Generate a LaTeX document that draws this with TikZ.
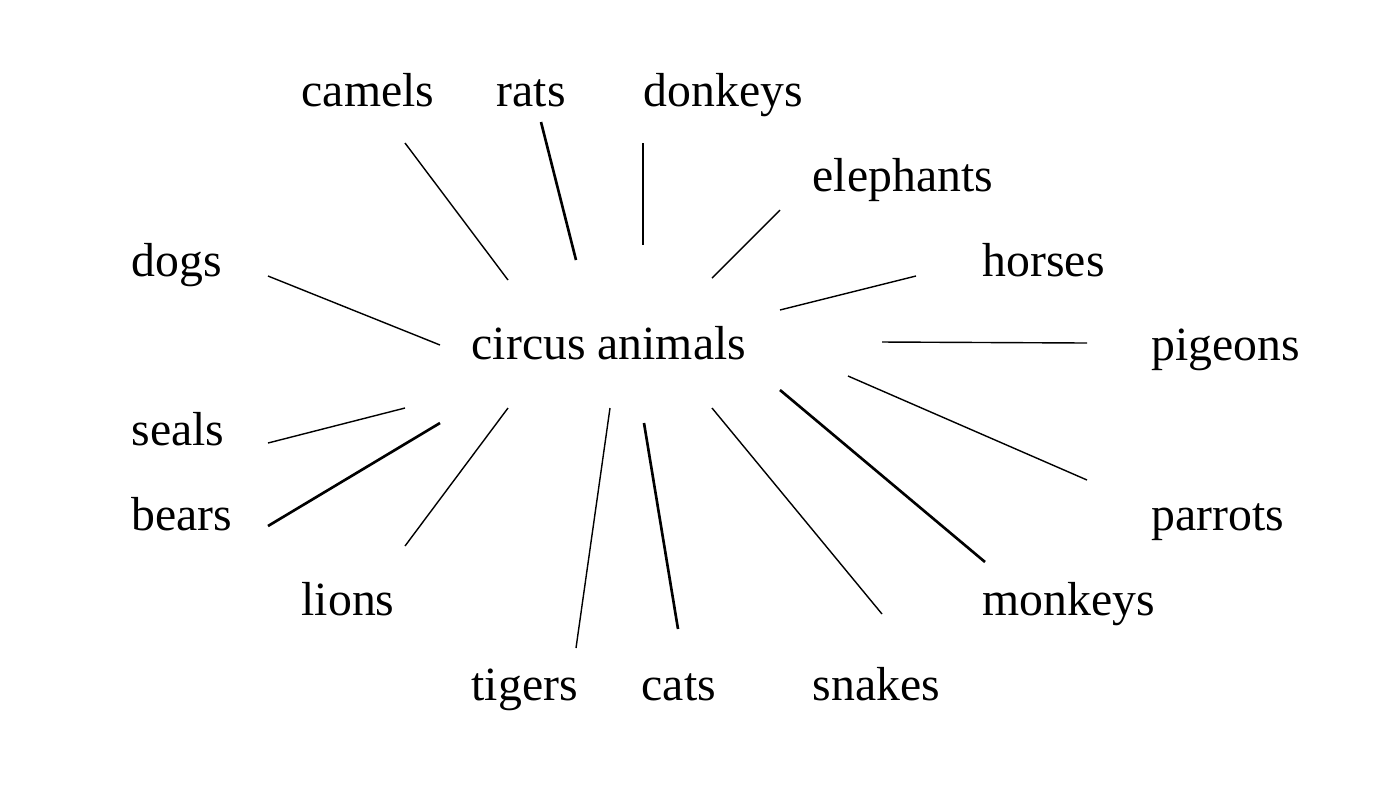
\documentclass[tikz,border=0pt]{standalone}
\usepackage{fontspec}
\setmainfont{Liberation Serif}
\newfontfamily\animalfont{Liberation Serif}
\usepackage{tikz}
\usetikzlibrary{positioning}

\tikzset{
    animal/.style={anchor=base west, inner sep=0pt, font=\animalfont\fontsize{13.57}{16}\selectfont},
    spoke/.style={black, line width=0.4pt},
    boldspoke/.style={black, line width=0.75pt}
}

\begin{document}
\begin{tikzpicture}[x=0.01cm, y=-0.01cm]
    % Marco de la figura
    \useasboundingbox (0,0) rectangle (1400,805);

    % Centro del diagrama
    \node[animal] (center) at (471,359) {circus animals};

    % Nombres de los animales
    \foreach \name/\x/\y in {camels/301/106, rats/496/106, donkeys/643/106,
                             elephants/812/191, dogs/131/276, horses/982/276,
                             pigeons/1151/360, seals/131/445, bears/131/530,
                             parrots/1151/530, lions/301/615, monkeys/982/615,
                             tigers/471/700, cats/641/700, snakes/812/700}
        \node[animal] (\name) at (\x,\y) {\name};

    % Extremos de los rayos
    \foreach \name/\xa/\ya/\xb/\yb in {camels/405/143/508/280, rats/541/122/576/260,
                                       donkeys/643/143/643/245, elephants/780/210/712/278,
                                       horses/916/276/780/310, dogs/268/276/440/345,
                                       pigeons/1087/343/882/342, seals/268/443/405/408,
                                       bears/268/526/440/423, lions/405/546/508/408,
                                       tigers/576/648/610/408, cats/678/629/644/423,
                                       snakes/882/614/712/408, monkeys/985/562/780/390,
                                       parrots/1087/480/848/376}
    {
        \coordinate (\name-out) at (\xa,\ya);
        \coordinate (\name-in) at (\xb,\yb);
    }

    % Rayos finos
    \foreach \name in {camels, donkeys, elephants, horses, dogs, pigeons, seals,
                       lions, tigers, snakes, parrots}
        \draw[spoke] (\name-out) -- (\name-in);

    % Rayos gruesos
    \foreach \name in {rats, bears, cats, monkeys}
        \draw[boldspoke] (\name-out) -- (\name-in);
\end{tikzpicture}
\end{document}
